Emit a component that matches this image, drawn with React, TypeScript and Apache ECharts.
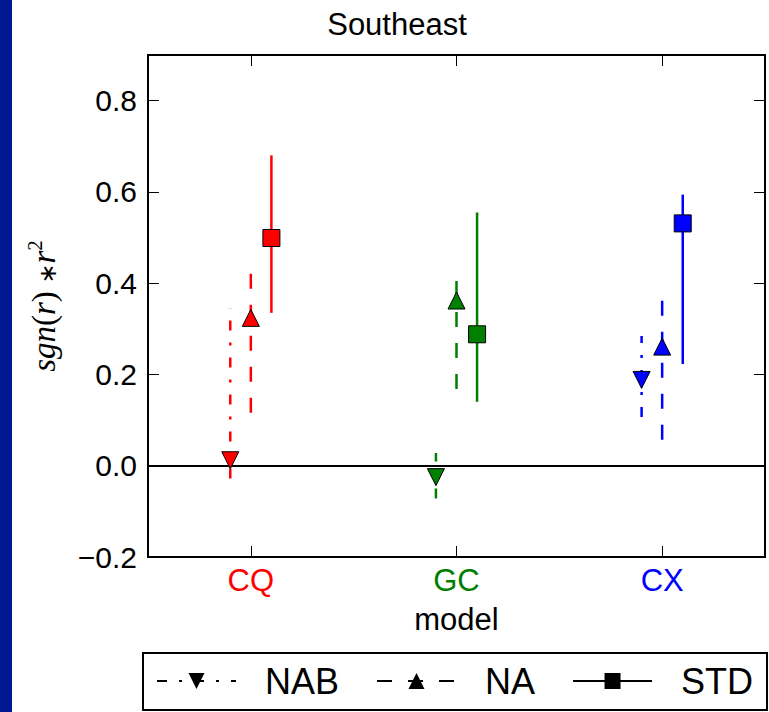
import React, { useEffect, useRef } from "react";
import * as echarts from "echarts";

const models = ["CQ", "GC", "CX"];
const modelColors = ["#ff0000", "#008000", "#0000ff"];

const nabValue = [0.012, -0.025, 0.188];
const nabLow = [-0.028, -0.072, 0.107];
const nabHigh = [0.345, 0.028, 0.284];

const naValue = [0.324, 0.362, 0.261];
const naLow = [0.116, 0.168, 0.057];
const naHigh = [0.433, 0.413, 0.372];

const stdValue = [0.499, 0.288, 0.531];
const stdLow = [0.335, 0.14, 0.223];
const stdHigh = [0.68, 0.555, 0.594];

const FONT = "Liberation Sans, Arial, sans-serif";

type Group = {
  name: string;
  offset: number;
  value: number[];
  low: number[];
  high: number[];
  symbol: string;
  rotate: number;
  size: number;
  dash: number[] | "solid";
};

const groups: Group[] = [
  { name: "NAB", offset: -0.1, value: nabValue, low: nabLow, high: nabHigh, symbol: "triangle", rotate: 180, size: 17, dash: [10, 12, 3, 12] },
  { name: "NA", offset: 0, value: naValue, low: naLow, high: naHigh, symbol: "triangle", rotate: 0, size: 17, dash: [15, 16] },
  { name: "STD", offset: 0.1, value: stdValue, low: stdLow, high: stdHigh, symbol: "rect", rotate: 0, size: 17, dash: "solid" },
];

export default function App() {
  const ref = useRef<HTMLDivElement>(null);
  useEffect(() => {
    if (!ref.current) return;
    const chart = echarts.init(ref.current, null, { renderer: "svg" });

    const series: any[] = [];
    groups.forEach((g, gi) => {
      series.push({
        type: "custom",
        name: g.name + "-err",
        xAxisIndex: 2,
        yAxisIndex: 0,
        z: 2,
        data: models.map((_, i) => [i + g.offset, g.low[i], g.high[i]]),
        renderItem: (params: any, api: any) => {
          const x = api.value(0);
          const p1 = api.coord([x, api.value(1)]);
          const p2 = api.coord([x, api.value(2)]);
          return {
            type: "line",
            shape: { x1: p1[0], y1: p1[1], x2: p2[0], y2: p2[1] },
            style: {
              stroke: modelColors[params.dataIndex],
              lineWidth: 2.5,
              lineDash: g.dash === "solid" ? null : g.dash,
            },
          };
        },
        markLine:
          gi === 0
            ? {
                silent: true,
                symbol: "none",
                label: { show: false },
                lineStyle: { color: "#000", width: 2, type: "solid" },
                data: [{ yAxis: 0 }],
                z: 3,
              }
            : undefined,
      });
      series.push({
        type: "scatter",
        name: g.name + "-pt",
        xAxisIndex: 2,
        yAxisIndex: 0,
        z: 5,
        symbol: g.symbol,
        symbolRotate: g.rotate,
        symbolSize: g.size,
        itemStyle: {
          color: (p: any) => modelColors[p.dataIndex],
          borderColor: "#000",
          borderWidth: 1,
          opacity: 1,
        },
        data: models.map((_, i) => [i + g.offset, g.value[i]]),
      });
      series.push({
        type: "line",
        name: g.name,
        xAxisIndex: 2,
        yAxisIndex: 0,
        data: [],
        color: "#000",
        symbol: g.symbol,
        symbolRotate: g.rotate,
        itemStyle: { color: "#000" },
        lineStyle: { color: "#000", width: 2.5, type: g.dash },
      });
    });

    const yLabelFmt = (v: number) => v.toFixed(1).replace("-", "\u2212");
    const tick = { show: true, inside: true, length: 11, lineStyle: { color: "#000", width: 1 } };

    chart.setOption({
      animation: false,
      backgroundColor: "#ffffff",
      title: {
        text: "Southeast",
        left: 397,
        top: 9,
        textAlign: "center",
        padding: 0,
        textStyle: { fontSize: 31, fontWeight: "normal", color: "#000", fontFamily: FONT },
      },
      grid: {
        left: 148,
        right: 4,
        top: 55,
        bottom: 155,
        show: true,
        borderColor: "#000",
        borderWidth: 2,
        backgroundColor: "#fff",
      },
      legend: {
        data: groups.map((g) => g.name),
        left: 156,
        top: 663,
        itemWidth: 79,
        itemHeight: 20,
        itemGap: 37,
        padding: 0,
        selectedMode: false,
        textStyle: { fontSize: 36, color: "#000", fontFamily: FONT, padding: [0, 0, 0, 24] },
      },
      xAxis: [
        {
          type: "category",
          data: models,
          position: "bottom",
          boundaryGap: true,
          axisLine: { show: false, onZero: false },
          axisTick: { ...tick, alignWithLabel: true },
          axisLabel: {
            fontSize: 31,
            fontFamily: FONT,
            margin: 8,
            color: (_v: any, i: number) => modelColors[i],
          },
          splitLine: { show: false },
          name: "model",
          nameLocation: "middle",
          nameGap: 47,
          nameTextStyle: { fontSize: 31, color: "#000", fontFamily: FONT },
        },
        {
          type: "category",
          data: models,
          position: "top",
          boundaryGap: true,
          axisLine: { show: false, onZero: false },
          axisTick: { ...tick, alignWithLabel: true },
          axisLabel: { show: false },
          splitLine: { show: false },
        },
        {
          type: "value",
          min: -0.5,
          max: 2.5,
          show: false,
          axisLine: { show: false, onZero: false },
          splitLine: { show: false },
        },
      ],
      yAxis: [
        {
          type: "value",
          min: -0.2,
          max: 0.9,
          interval: 0.2,
          position: "left",
          axisLine: { show: false, onZero: false },
          axisTick: tick,
          axisLabel: { fontSize: 30, fontFamily: FONT, color: "#000", margin: 11, formatter: yLabelFmt, showMaxLabel: false },
          splitLine: { show: false },
        },
        {
          type: "value",
          min: -0.2,
          max: 0.9,
          interval: 0.2,
          position: "right",
          axisLine: { show: false, onZero: false },
          axisTick: tick,
          axisLabel: { show: false },
          splitLine: { show: false },
        },
      ],
      graphic: [
        { type: "rect", shape: { x: 0, y: 0, width: 12, height: 712 }, style: { fill: "#00188f" }, z: 10 },
        {
          type: "rect",
          shape: { x: 143, y: 653, width: 624, height: 57 },
          style: { fill: "none", stroke: "#000", lineWidth: 2 },
          z: 10,
        },
        {
          type: "text",
          x: 42,
          y: 306,
          rotation: Math.PI / 2,
          z: 10,
          style: {
            text: "{i|sgn}{u|(}{i|r}{u|)}{a| \u2217}{i|r}{s|2}",
            align: "center",
            verticalAlign: "middle",
            fill: "#000",
            rich: {
              i: { fontFamily: "Liberation Serif, serif", fontStyle: "italic", fontSize: 33, lineHeight: 36, verticalAlign: "bottom" },
              u: { fontFamily: "Liberation Serif, serif", fontSize: 33, lineHeight: 36, verticalAlign: "bottom" },
              a: { fontFamily: "DejaVu Sans, sans-serif", fontSize: 24, lineHeight: 32, verticalAlign: "bottom" },
              s: { fontFamily: "Liberation Serif, serif", fontSize: 21, lineHeight: 36, verticalAlign: "top" },
            },
          },
        },
      ],
      series,
    });

    return () => chart.dispose();
  }, []);

  return (
    <div
      ref={ref}
      style={{ position: "absolute", left: 0, top: 0, width: 769, height: 712 }}
    />
  );
}
